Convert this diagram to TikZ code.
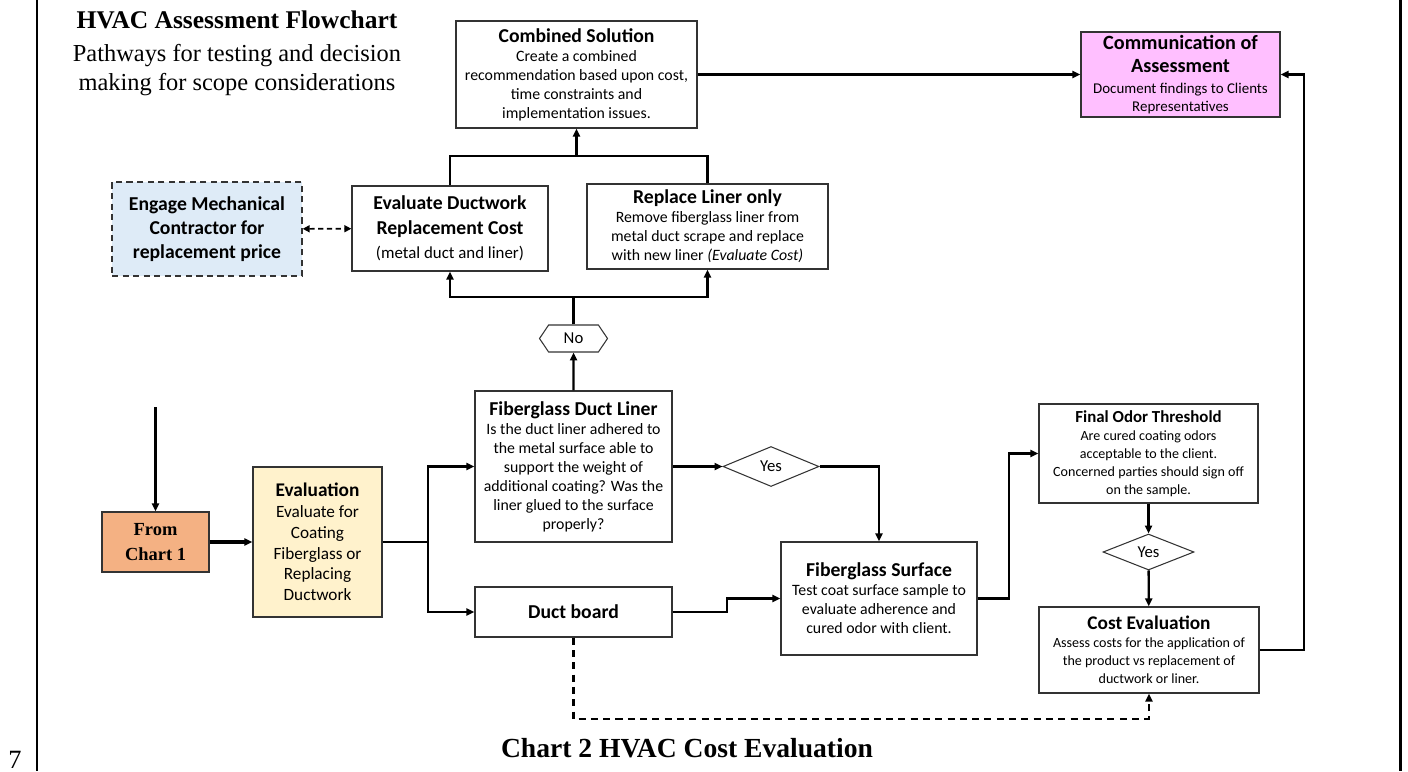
\documentclass[tikz,border=0pt]{standalone}
\usepackage{fontspec}
\setmainfont{Carlito}
\newfontfamily\garafont{Liberation Serif}
\usepackage{tikz}
\usepackage{xcolor}
\usetikzlibrary{positioning, arrows.meta, shapes}

\definecolor{chartorange}{HTML}{F4B183}
\definecolor{evalyellow}{HTML}{FFF2CC}
\definecolor{engageblue}{HTML}{DEEBF7}
\definecolor{commpink}{HTML}{FFBFFF}
\definecolor{boxline}{HTML}{333333}

\tikzset{
    box/.style={draw=boxline, line width=0.8pt, rectangle, align=center, inner sep=0pt, font=\fontsize{9}{10.8}\selectfont},
    dbox/.style={box, dash pattern=on 3.5pt off 2.5pt},
    choice/.style={draw=boxline, line width=0.6pt, diamond, inner sep=0pt, font=\fontsize{9.5}{11}\selectfont},
    tag/.style={draw=boxline, line width=0.6pt, signal, signal to=east and west, signal pointer angle=112, inner sep=0pt, font=\fontsize{9.5}{11}\selectfont},
    tip/.style={-{Triangle[length=4.5pt, width=4pt]}},
    link/.style={line width=1.3pt, tip},
    plain/.style={line width=1.3pt},
}

\begin{document}
\begin{tikzpicture}[x=0.02cm, y=-0.02cm]
    \useasboundingbox (0,0) rectangle (1408,771);

    % page frame and captions
    \draw[line width=1.7pt] (37,0) -- (37,771);
    \draw[line width=1.7pt] (1400,0) -- (1400,771);
    \node[font=\garafont\fontsize{14.5}{17}\selectfont\bfseries] (title) at (237,20) {HVAC Assessment Flowchart};
    \node[font=\garafont\fontsize{13.9}{17}\selectfont, align=center] (subtitle) at (237,70) {Pathways for testing and decision\\making for scope considerations};
    \node[font=\garafont\fontsize{15.7}{18}\selectfont\bfseries] (caption) at (687,748) {Chart 2 HVAC Cost Evaluation};
    \node[font=\garafont\fontsize{15}{18}\selectfont, anchor=base west, inner sep=0pt] (pagenum) at (8,768) {7};

    % boxes
    \node[box, fill=chartorange, minimum width=2.14cm, minimum height=1.20cm, font=\garafont\fontsize{10.5}{14}\selectfont\bfseries] (chart1) at (155.5,542) {From\\Chart 1};
    \node[box, fill=evalyellow, minimum width=2.58cm, minimum height=3.00cm, font=\fontsize{9.8}{11.8}\selectfont] (eval) at (317.5,542) {{\fontsize{11}{12}\selectfont\bfseries Evaluation}\\Evaluate for\\Coating\\Fiberglass or\\Replacing\\Ductwork};
    \node[box, minimum width=3.94cm, minimum height=3.02cm] (fdl) at (573.5,466.5) {{\fontsize{11.2}{12}\selectfont\bfseries Fiberglass Duct Liner}\\Is the duct liner adhered to\\the metal surface able to\\support the weight of\\additional coating? Was the\\liner glued to the surface\\properly?};
    \node[box, minimum width=3.94cm, minimum height=1.00cm, font=\fontsize{11.2}{13}\selectfont\bfseries] (duct) at (573.5,612) {Duct board};
    \node[tag, minimum width=1.36cm, minimum height=0.54cm] (no) at (573.5,338.5) {No};
    \node[choice, minimum width=1.92cm, minimum height=0.80cm] (yes1) at (771,466.5) {Yes};
    \node[box, minimum width=3.92cm, minimum height=2.26cm] (fsurf) at (879,598.5) {{\fontsize{11.2}{12}\selectfont\bfseries Fiberglass Surface}\\Test coat surface sample to\\evaluate adherence and\\cured odor with client.};
    \node[box, minimum width=4.38cm, minimum height=1.98cm, font=\fontsize{8}{10.2}\selectfont] (fot) at (1148.5,453.5) {{\fontsize{9.6}{11}\selectfont\bfseries Final Odor Threshold}\\Are cured coating odors\\acceptable to the client.\\Concerned parties should sign off\\on the sample.};
    \node[choice, minimum width=1.82cm, minimum height=0.72cm] (yes2) at (1148.5,552) {Yes};
    \node[box, minimum width=4.40cm, minimum height=1.72cm, font=\fontsize{8}{10.2}\selectfont] (cost) at (1149,650) {{\fontsize{11}{13}\selectfont\bfseries Cost Evaluation}\\Assess costs for the application of\\the product vs replacement of\\ductwork or liner.};
    \node[box, minimum width=3.92cm, minimum height=1.70cm, font=\fontsize{11.2}{14}\selectfont] (evalduct) at (450,228.5) {\textbf{Evaluate Ductwork}\\\textbf{Replacement Cost}\\{\fontsize{9.6}{11}\selectfont(metal duct and liner)}};
    \node[box, minimum width=4.82cm, minimum height=1.70cm] (liner) at (707.5,226.5) {{\fontsize{11.2}{12}\selectfont\bfseries Replace Liner only}\\Remove fiberglass liner from\\metal duct scrape and replace\\with new liner \textit{(Evaluate Cost)}};
    \node[dbox, fill=engageblue, minimum width=3.80cm, minimum height=1.88cm, font=\fontsize{11.2}{13.6}\selectfont\bfseries] (engage) at (207,229) {Engage Mechanical\\Contractor for\\replacement price};
    \node[box, minimum width=4.82cm, minimum height=2.14cm] (comb) at (576.5,74.5) {{\fontsize{11.2}{12}\selectfont\bfseries Combined Solution}\\Create a combined\\recommendation based upon cost,\\time constraints and\\implementation issues.};
    \node[box, fill=commpink, minimum width=3.98cm, minimum height=1.70cm, font=\fontsize{8.5}{10}\selectfont] (comm) at (1180.5,74.5) {{\fontsize{11.5}{12.5}\selectfont\bfseries Communication of}\\[3pt]{\fontsize{11.5}{12.5}\selectfont\bfseries Assessment}\\[2pt]Document findings to Clients\\Representatives};

    % connectors
    \coordinate (top) at (155.5,407);
    \coordinate (fork) at (428,542);
    \coordinate (split) at (573.5,297);
    \coordinate (join) at (576.5,156);
    \draw[link] (top) -- (chart1);
    \draw[link, line width=2.2pt] (chart1) -- (eval);
    \draw[plain] (eval.east) -- (fork);
    \draw[link] (fork) |- (fdl.west);
    \draw[link] (fork) |- (duct.west);
    \draw[link] (fdl) -- (no);
    \draw[plain] (no.north) -- (split);
    \draw[link] (split) -| (evalduct.south);
    \draw[link] (split) -| (liner.south);
    \draw[plain] (evalduct.north) |- (join) -| (liner.north);
    \draw[link] (join) -- (comb.south);
    \draw[link] (comb) -- (comm);
    \draw[line width=0.9pt, dash pattern=on 3pt off 2pt, {Triangle[length=4pt, width=4pt]}-{Triangle[length=4pt, width=4pt]}] (engage) -- (evalduct);
    \draw[link] (fdl) -- (yes1);
    \draw[link] (yes1.east) -| (fsurf.north);
    \draw[link] (duct.east) -- ++(54,0) |- (fsurf.west);
    \draw[link] (fsurf.east) -- ++(31,0) |- (fot.west);
    \draw[link] (fot) -- (yes2);
    \draw[link] (yes2) -- (cost);
    \draw[link] (cost.east) -- ++(44,0) |- (comm.east);
    \draw[link, dash pattern=on 4pt off 3pt] (duct.south) -- ++(0,81) -| (cost.south);
\end{tikzpicture}
\end{document}
